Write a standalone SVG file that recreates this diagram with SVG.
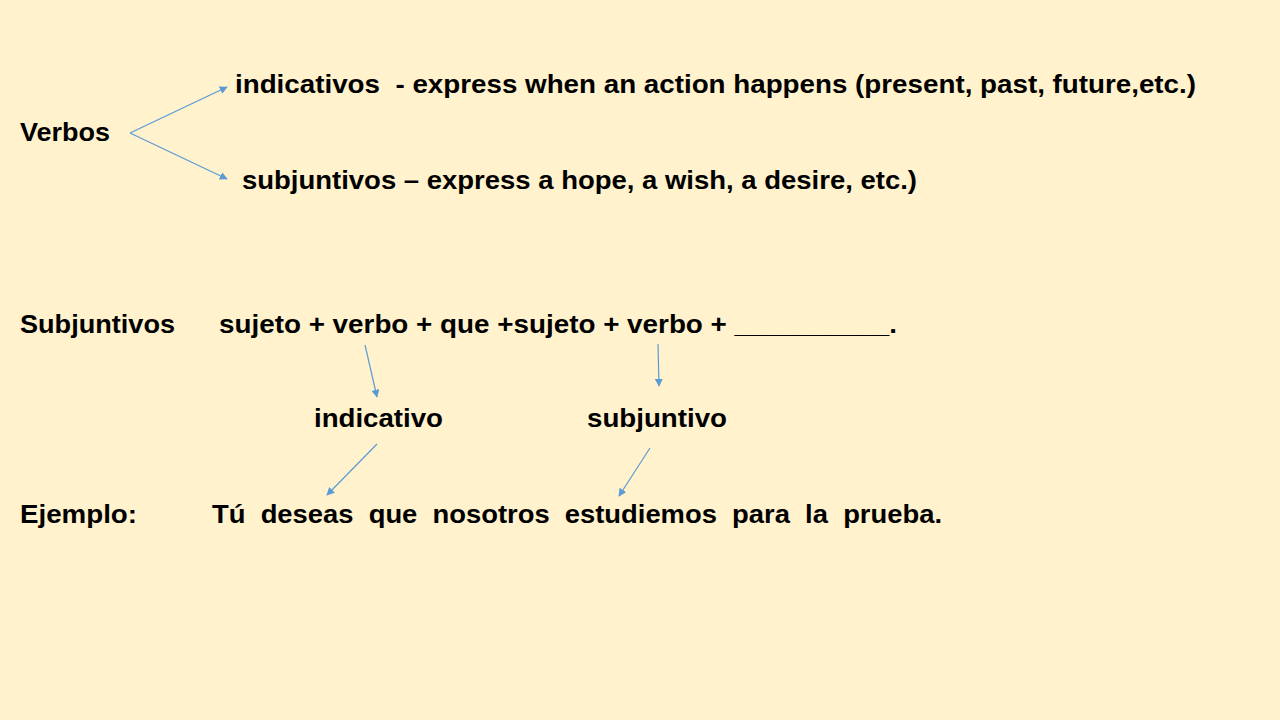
<svg xmlns="http://www.w3.org/2000/svg" width="1280" height="720" viewBox="0 0 1280 720">
<style>
text{font-family:"Liberation Sans",Arial,sans-serif;font-weight:bold;font-size:25px;fill:#000;white-space:pre}
.c{stroke:#5B9BD5;stroke-width:1.2;fill:none;marker-end:url(#ah)}
</style>
<defs>
<marker id="ah" viewBox="0 0 10 10" refX="9" refY="5" markerWidth="8" markerHeight="8" markerUnits="userSpaceOnUse" orient="auto">
<path d="M0,0 L10,5 L0,10 z" fill="#5B9BD5"/>
</marker>
</defs>
<rect width="1280" height="720" fill="#FFF2CC"/>
<g id="verbos"><text x="20" y="141" textLength="90" lengthAdjust="spacingAndGlyphs">Verbos</text></g>
<g id="indicativos"><text x="235" y="93" textLength="961" lengthAdjust="spacingAndGlyphs">indicativos  - express when an action happens (present, past, future,etc.)</text></g>
<g id="subjuntivos-def"><text x="242" y="189" textLength="675" lengthAdjust="spacingAndGlyphs">subjuntivos – express a hope, a wish, a desire, etc.)</text></g>
<g id="subjuntivos"><text x="20" y="333" textLength="155" lengthAdjust="spacingAndGlyphs">Subjuntivos</text></g>
<g id="formula"><text x="219" y="333" textLength="678" lengthAdjust="spacingAndGlyphs">sujeto + verbo + que +sujeto + verbo + __________.</text></g>
<g id="indicativo"><text x="314" y="427" textLength="129" lengthAdjust="spacingAndGlyphs">indicativo</text></g>
<g id="subjuntivo"><text x="587" y="427" textLength="140" lengthAdjust="spacingAndGlyphs">subjuntivo</text></g>
<g id="ejemplo"><text x="20" y="523" textLength="117" lengthAdjust="spacingAndGlyphs">Ejemplo:</text></g>
<g id="sentence"><text x="212" y="523" textLength="730" lengthAdjust="spacingAndGlyphs">Tú  deseas  que  nosotros  estudiemos  para  la  prueba.</text></g>
<g id="connectors">
<path class="c" d="M130,133 L227,87"/>
<path class="c" d="M130,133 L227,179"/>
<path class="c" d="M365,345 L377,397"/>
<path class="c" d="M658,344 L659,386"/>
<path class="c" d="M377,444 L327,495"/>
<path class="c" d="M650,448 L619,496"/>
</g>
</svg>
